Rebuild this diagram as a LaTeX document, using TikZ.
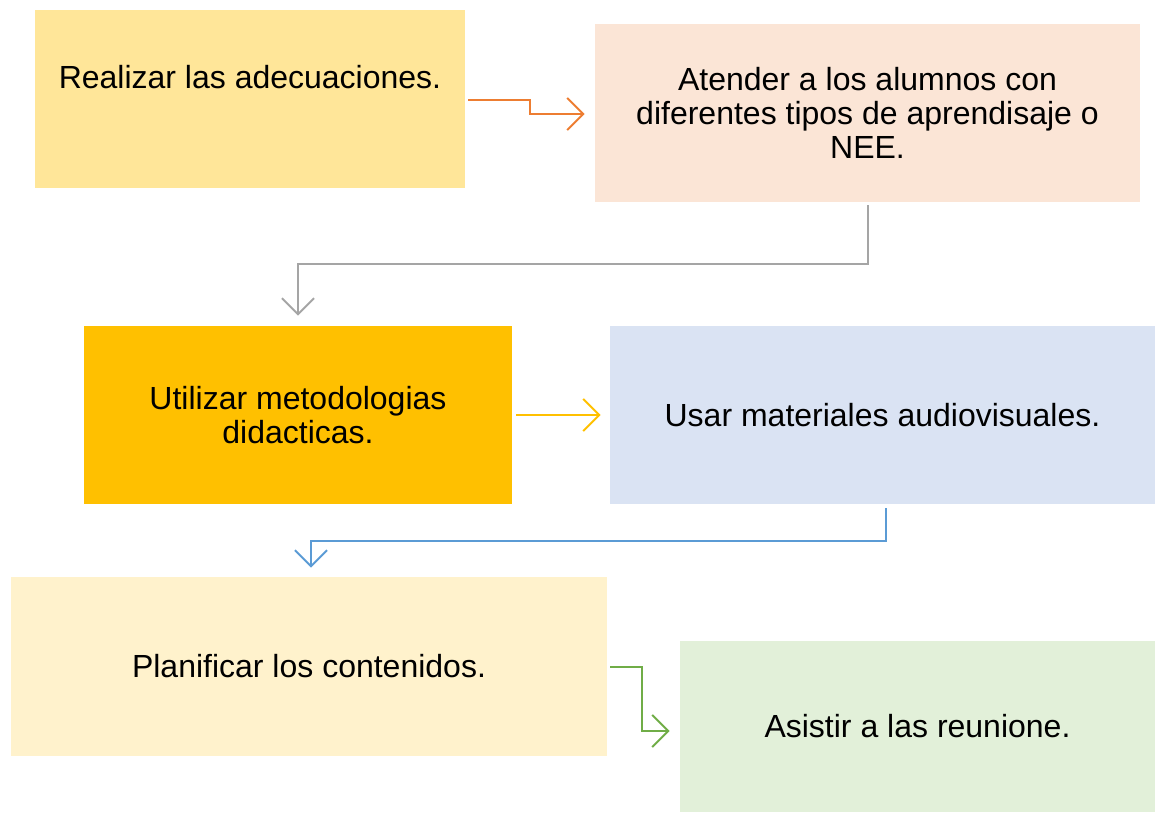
\documentclass[tikz,border=0pt]{standalone}
\usepackage{fontspec}
\setmainfont{Liberation Sans}
\usetikzlibrary{arrows.meta}
\definecolor{boxA}{HTML}{FFE699}
\definecolor{boxB}{HTML}{FBE5D6}
\definecolor{boxC}{HTML}{FFC000}
\definecolor{boxD}{HTML}{DAE3F3}
\definecolor{boxE}{HTML}{FFF2CC}
\definecolor{boxF}{HTML}{E2F0D9}
\definecolor{arrA}{HTML}{ED7D31}
\definecolor{arrB}{HTML}{A5A5A5}
\definecolor{arrC}{HTML}{FFC000}
\definecolor{arrD}{HTML}{5B9BD5}
\definecolor{arrE}{HTML}{70AD47}
\begin{document}
\begin{tikzpicture}[x=0.5pt,y=-0.5pt,
  box/.style={inner sep=0pt,minimum height=89pt,font=\fontsize{16}{17}\selectfont,align=center},
  txt/.style={inner sep=0pt,font=\fontsize{16}{17}\selectfont,align=center},
  conn/.style={line width=1pt,-{Straight Barb[length=8pt,width=16pt]}}]
\useasboundingbox (0,0) rectangle (1155,813);
\node[box,fill=boxA,minimum width=215pt] (a) at (250,99) {};
\node[txt] (atext) at (250,77) {Realizar las adecuaciones.};
\node[box,fill=boxB,minimum width=272.5pt] (b) at (867.5,113) {Atender a los alumnos con\\diferentes tipos de aprendisaje o\\NEE.};
\node[box,fill=boxC,minimum width=214pt] (c) at (298,415) {Utilizar metodologias\\didacticas.};
\node[box,fill=boxD,minimum width=272.5pt] (d) at (882.5,415) {Usar materiales audiovisuales.};
\node[box,fill=boxE,minimum width=298pt,minimum height=89.5pt] (e) at (309,666.5) {Planificar los contenidos.};
\node[box,fill=boxF,minimum width=237.5pt,minimum height=85.5pt] (f) at (917.5,726.5) {Asistir a las reunione.};
\draw[conn,arrA] ([xshift=1.5pt,yshift=-0.5pt]a.east) -- ++(31pt,0) |- ([xshift=-5pt,yshift=-0.5pt]b.west);
\draw[conn,arrB] ([xshift=0.25pt,yshift=-1.5pt]b.south) -- ++(0,-29.5pt) -| ([yshift=5pt]c.north);
\draw[conn,arrC] ([xshift=2pt]c.east) -- ([xshift=-4.5pt]d.west);
\draw[conn,arrD] ([xshift=1.75pt,yshift=-2pt]d.south) -- ++(0,-16.5pt) -| ([xshift=1pt,yshift=4.5pt]e.north);
\draw[conn,arrE] ([xshift=1.5pt]e.east) -- ++(16pt,0) |- ([xshift=-5pt,yshift=-2.25pt]f.west);
\end{tikzpicture}
\end{document}
